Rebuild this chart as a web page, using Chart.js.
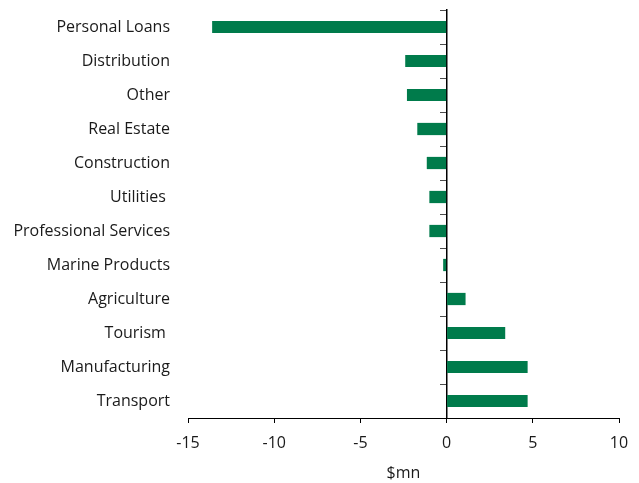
<!DOCTYPE html>
<html>
<head>
<meta charset="utf-8">
<script src="https://cdn.jsdelivr.net/npm/chart.js@4.4.1/dist/chart.umd.min.js"></script>
<style>
  html, body { margin: 0; padding: 0; background: #fff; }
  #wrap { width: 639px; height: 483px; }
</style>
</head>
<body>
<div id="wrap"><canvas id="chart"></canvas></div>
<script>
// Change in lending by sector, $mn
const sectors = [
  "Personal Loans", "Distribution", "Other", "Real Estate", "Construction",
  "Utilities ", "Professional Services", "Marine Products", "Agriculture",
  "Tourism ", "Manufacturing", "Transport"
]
const change = [-13.6, -2.4, -2.3, -1.7, -1.15, -1.0, -1.0, -0.2, 1.1, 3.4, 4.7, 4.7]
const xTicks = [-15, -10, -5, 0, 5, 10]

const green = "#007B4B"
const textColor = "#1a1a1a"
const font = { family: "'Open Sans', Lato, sans-serif", size: 16 }

// y axes: keep the chart area from being pushed in by label half-heights
const noPad = (s) => { s.paddingTop = 0; s.paddingBottom = 0 }

new Chart(document.getElementById("chart"), {
  type: "bar",
  data: {
    labels: sectors,
    datasets: [{
      data: change,
      backgroundColor: green,
      borderWidth: 0,
      categoryPercentage: 1,
      barPercentage: 0.36,
      yAxisID: "y",
    }],
  },
  options: {
    indexAxis: "y",
    responsive: true,
    maintainAspectRatio: false,
    animation: false,
    layout: { padding: { top: 10, right: 20, left: 0, bottom: 0 } },
    plugins: { legend: { display: false }, tooltip: { enabled: false } },
    scales: {
      x: {
        min: xTicks[0],
        max: xTicks[xTicks.length - 1],
        afterBuildTicks: (s) => { s.ticks = xTicks.map((v) => ({ value: v })) },
        afterFit: (s) => { s.height = 65; s.paddingLeft = 0; s.paddingRight = 0 },
        grid: { drawOnChartArea: false, tickLength: 5, color: "#000" },
        border: { color: "#000", width: 1 },
        ticks: { color: textColor, font: font, padding: 11, maxRotation: 0 },
        title: { display: true, text: "$mn", color: textColor, font: font, padding: { top: 4, bottom: 0 } },
      },
      y: {
        position: "left",
        afterFit: (s) => { s.width = 188; noPad(s) },
        grid: { display: false, drawTicks: false },
        border: { display: false },
        ticks: { color: textColor, font: font, padding: 18, autoSkip: false },
      },
      // zero line with the category tick marks
      y0: {
        type: "category",
        labels: sectors,
        position: { x: 0 },
        offset: true,
        afterFit: noPad,
        grid: { offset: true, drawOnChartArea: false, tickLength: 6, color: "#4d4d4d" },
        border: { color: "#000", width: 1.5 },
        ticks: { display: false },
      },
    },
  },
})
</script>
</body>
</html>
